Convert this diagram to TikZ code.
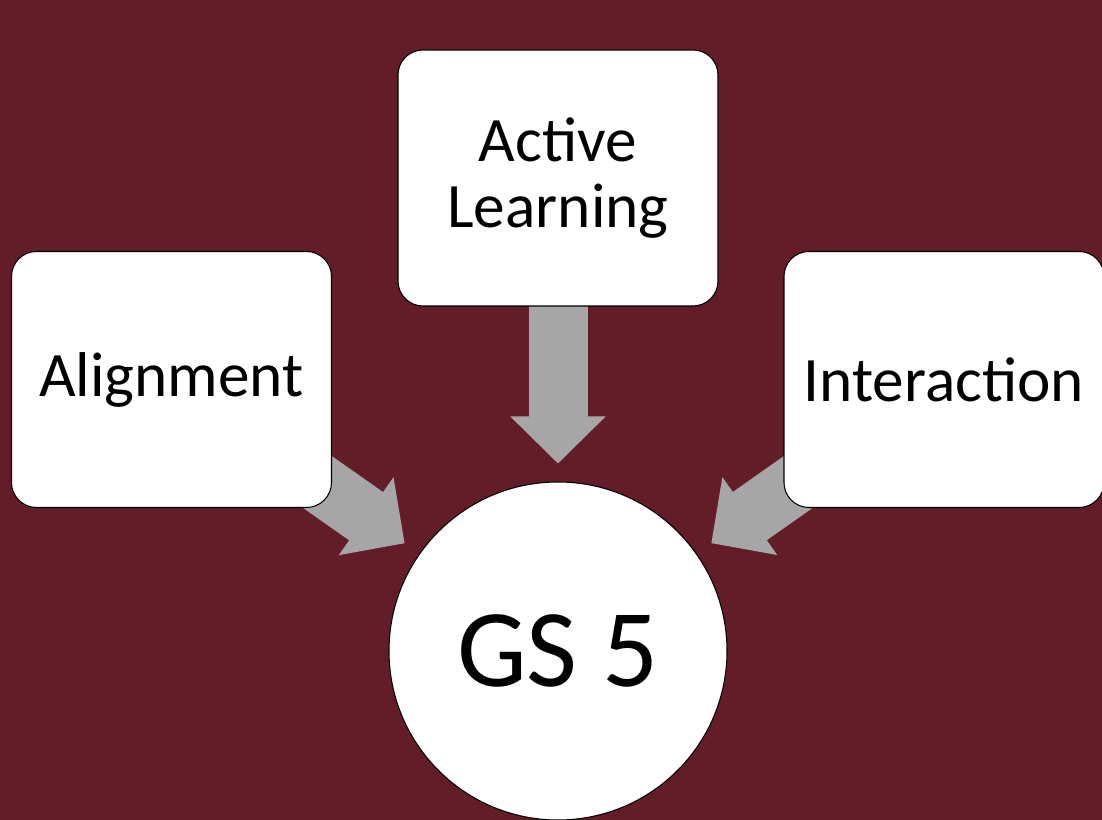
\documentclass[tikz,border=0pt]{standalone}
\usepackage{fontspec}
\setmainfont{Carlito}
\usetikzlibrary{positioning,arrows.meta}
\definecolor{maroon}{HTML}{631D28}
\definecolor{arrowgray}{HTML}{A6A6A6}
\pgfdeclarelayer{background}
\pgfsetlayers{background,main}
\tikzset{
  topicbox/.style={draw=black, fill=white, line width=0.6pt, rounded corners=0.5cm,
    minimum width=6.4cm, minimum height=5.12cm, align=center,
    font=\fontsize{36}{37.5}\selectfont},
  gscircle/.style={draw=black, fill=white, line width=0.6pt, circle, minimum size=6.76cm,
    font=\fontsize{63}{70}\selectfont},
  inarrow/.style={draw=arrowgray, line width=1.18cm, shorten >=0.36cm,
    -{Triangle[width=1.9cm, length=0.94cm, line width=1pt]}}
}
\begin{document}
\begin{tikzpicture}
  \useasboundingbox (0,0) rectangle (22.04,16.4);
  % background
  \begin{pgfonlayer}{background}
    \fill[maroon] (0,0) rectangle (22.04,16.4);
  \end{pgfonlayer}
  % centre and the three topics
  \node[gscircle] (gs) at (11.16,3.38) {GS 5};
  \node[topicbox] (active) at (11.16,12.84) {Active\\Learning};
  \node[topicbox] (align) at (3.43,8.81) {Alignment};
  \node[topicbox] (inter) at (18.88,8.81) {Interaction};
  % arrows into GS 5
  \begin{pgfonlayer}{background}
    \draw[inarrow] (active.center) -- (gs);
    \draw[inarrow] (align.center) -- (gs);
    \draw[inarrow] (inter.center) -- (gs);
  \end{pgfonlayer}
\end{tikzpicture}
\end{document}
